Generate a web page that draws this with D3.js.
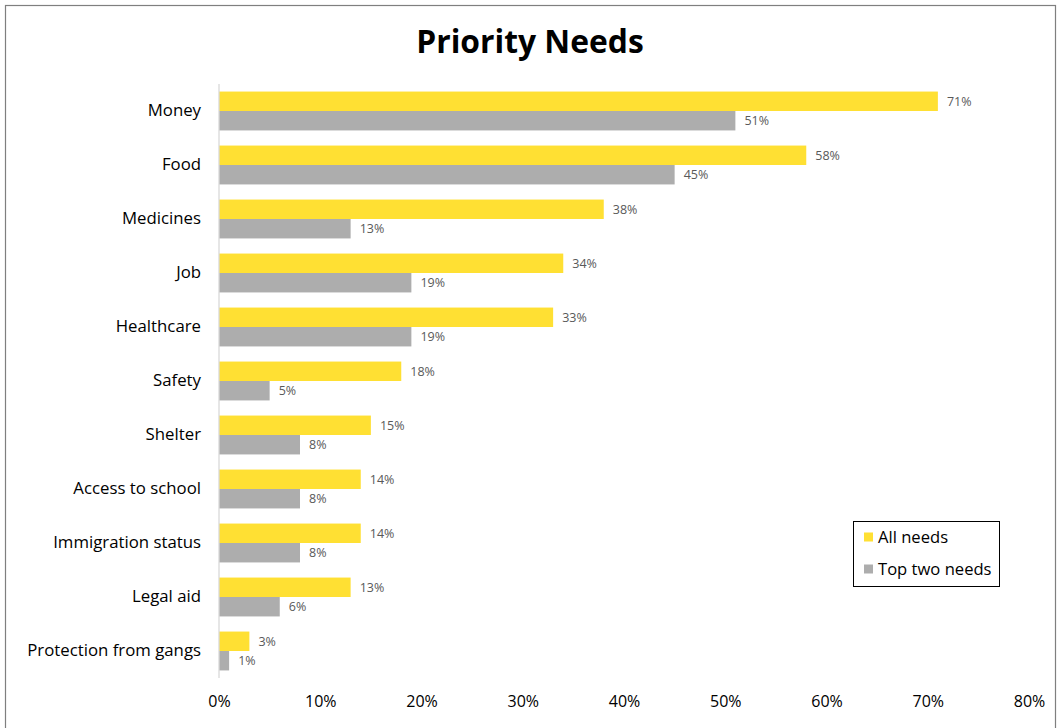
<!DOCTYPE html>
<html>
<head>
<meta charset="utf-8">
<script src="https://cdn.jsdelivr.net/npm/d3@7"></script>
<style>
  html, body { margin: 0; padding: 0; background: #fff; }
  svg { display: block; font-family: "Open Sans", "Liberation Sans", sans-serif; }
</style>
</head>
<body>
<svg id="chart" width="1057" height="728"></svg>
<script>
// Survey categories, top to bottom
const categories = ["Money", "Food", "Medicines", "Job", "Healthcare", "Safety", "Shelter",
  "Access to school", "Immigration status", "Legal aid", "Protection from gangs"];
// Share of respondents (%) citing each need
const allNeeds = [71, 58, 38, 34, 33, 18, 15, 14, 14, 13, 3];
const topTwoNeeds = [51, 45, 13, 19, 19, 5, 8, 8, 8, 6, 1];
const seriesNames = ["All needs", "Top two needs"];
const seriesColors = ["#FFE033", "#ADADAD"];
const xTicks = [0, 10, 20, 30, 40, 50, 60, 70, 80];

const svg = d3.select("#chart");
const W = 1057, H = 728;

// frame around the chart area
svg.append("rect").attr("x", 5.5).attr("y", 5.5).attr("width", W - 7).attr("height", H + 10)
  .attr("fill", "#fff").attr("stroke", "#7f7f7f").attr("stroke-width", 1.2);

svg.append("text").attr("x", 530).attr("y", 53).attr("text-anchor", "middle")
  .attr("font-size", 31.8).attr("font-weight", 700).attr("fill", "#000")
  .text("Priority Needs");

const x = d3.scaleLinear().domain([0, 80]).range([219, 1029]);
const y = d3.scaleBand().domain(categories).range([84, 678]).paddingInner(0.28).paddingOuter(0.14);
const ySub = d3.scaleBand().domain(seriesNames).range([0, y.bandwidth()]);

const rows = categories.map((c, i) => ({ cat: c, vals: [allNeeds[i], topTwoNeeds[i]] }));

const g = svg.append("g");
const row = g.selectAll("g.row").data(rows).join("g").attr("class", "row")
  .attr("transform", d => `translate(0,${y(d.cat)})`);

row.selectAll("rect").data(d => d.vals.map((v, k) => ({ v, k }))).join("rect")
  .attr("x", x(0)).attr("y", d => ySub(seriesNames[d.k]))
  .attr("width", d => x(d.v) - x(0)).attr("height", ySub.bandwidth())
  .attr("fill", d => seriesColors[d.k]);

row.selectAll("text.val").data(d => d.vals.map((v, k) => ({ v, k }))).join("text").attr("class", "val")
  .attr("x", d => x(d.v) + 9).attr("y", d => ySub(seriesNames[d.k]) + ySub.bandwidth() / 2)
  .attr("dy", "0.35em").attr("font-size", 12.5).attr("fill", "#595959")
  .text(d => d.v + "%");

// category axis
const yAxis = svg.append("g").attr("transform", `translate(${x(0)},0)`)
  .call(d3.axisLeft(y).tickSize(0).tickPadding(18));
yAxis.select(".domain").attr("stroke", "#d9d9d9").attr("stroke-width", 1.3)
  .attr("d", `M0,84V678`);
yAxis.selectAll("text").attr("font-size", 16.8).attr("fill", "#000")
  .attr("font-family", "'Open Sans', sans-serif");

// value axis (labels only)
const xAxis = svg.append("g").attr("transform", `translate(0,688)`)
  .call(d3.axisBottom(x).tickValues(xTicks).tickFormat(d => d + "%").tickSize(0).tickPadding(8));
xAxis.select(".domain").remove();
xAxis.selectAll("text").attr("font-size", 16).attr("fill", "#000")
  .attr("font-family", "'Open Sans', sans-serif");

// legend
const lg = svg.append("g");
lg.append("rect").attr("x", 853.5).attr("y", 521.5).attr("width", 146).attr("height", 65)
  .attr("fill", "#fff").attr("stroke", "#000").attr("stroke-width", 1);
seriesNames.forEach((s, i) => {
  const cy = 537 + i * 32;
  lg.append("rect").attr("x", 864).attr("y", cy - 4.5).attr("width", 9).attr("height", 9)
    .attr("fill", seriesColors[i]);
  lg.append("text").attr("x", 878).attr("y", cy).attr("dy", "0.35em")
    .attr("font-size", 16.6).attr("fill", "#000").text(s);
});
</script>
</body>
</html>
